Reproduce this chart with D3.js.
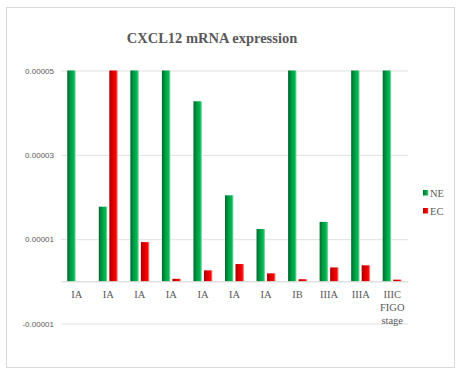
<!DOCTYPE html>
<html><head><meta charset="utf-8">
<script src="https://cdn.jsdelivr.net/npm/d3@7"></script>
<style>body{margin:0;background:#fff}svg{display:block}</style>
</head><body><svg id="c" width="460" height="375"></svg>
<script>
const categories = ["IA","IA","IA","IA","IA","IA","IA","IB","IIIA","IIIA","IIIC"];
const seriesNames = ["NE","EC"];
const neValues = [0.00005,0.0000177,0.00005,0.00005,0.0000427,0.0000204,0.0000124,0.00005,0.0000141,0.00005,0.00005];
const ecValues = [0,0.00005,0.0000093,0.0000006,0.0000026,0.0000041,0.0000019,0.0000005,0.0000033,0.0000038,0.0000004];
const yTicks = [-0.00001,0.00001,0.00003,0.00005];
const yTickLabels = ["-0.00001","0.00001","0.00003","0.00005"];
const title = "CXCL12 mRNA expression";
const axisTitle = ["FIGO","stage"];

const SERIF = "'Liberation Serif','Times New Roman',serif";
const SANS = "'Liberation Sans',Arial,sans-serif";
const svg = d3.select("#c");
const defs = svg.append("defs");
function grad(id, stops){
  const g = defs.append("linearGradient").attr("id",id).attr("x1","0").attr("x2","1").attr("y1","0").attr("y2","0");
  stops.forEach(s=>g.append("stop").attr("offset",s[0]).attr("stop-color",s[1]));
}
grad("gNE",[[0,"#00692e"],[0.45,"#00a047"],[0.78,"#00b853"],[0.88,"#3fcf7c"],[1,"#9fe6bb"]]);
grad("gEC",[[0,"#a80000"],[0.45,"#e00000"],[0.78,"#ff0000"],[0.88,"#ff4d4d"],[1,"#ffaaaa"]]);

svg.append("rect").attr("x",6.5).attr("y",7.5).attr("width",448).attr("height",360)
  .attr("fill","#fff").attr("stroke","#d9d9d9");

const x = d3.scaleBand().domain(d3.range(categories.length)).range([61,408]);
const y = d3.scaleLinear().domain([-0.00001,0.00005]).range([323.5,70.5]);
const inner = d3.scaleBand().domain(seriesNames).range([0,x.bandwidth()]).paddingInner(0.19).paddingOuter(0.595);

svg.append("text").attr("x",212).attr("y",43).attr("text-anchor","middle")
  .style("font-family",SERIF).attr("font-weight","bold").attr("font-size",14.5)
  .attr("fill","#595959").text(title);

// gridlines
const yAxis = d3.axisLeft(y).tickValues(yTicks).tickSize(-(408-61)).tickFormat((d,i)=>yTickLabels[i]);
const ga = svg.append("g").attr("transform","translate(61,0)").call(yAxis);
ga.select(".domain").remove();
ga.selectAll(".tick line").attr("stroke","#e0e0e0");
ga.selectAll(".tick text").attr("x",-7).style("font-family",SANS).attr("font-size",8)
  .attr("fill","#595959");

// bars
const data = [neValues, ecValues];
seriesNames.forEach((s,si)=>{
  svg.append("g").selectAll("rect").data(data[si]).join("rect")
    .attr("x",(d,i)=>x(i)+inner(s))
    .attr("width",inner.bandwidth())
    .attr("y",d=>y(Math.max(d,0)))
    .attr("height",d=>Math.abs(y(d)-y(0)))
    .attr("fill",si===0?"url(#gNE)":"url(#gEC)");
});

// zero axis line
const xAxis = d3.axisBottom(x).tickSize(0).tickFormat(i=>categories[i]);
const gx = svg.append("g").attr("transform",`translate(0,${y(0)})`).call(xAxis);
gx.select(".domain").attr("stroke","#d0d0d0");
gx.selectAll(".tick text").attr("dy",0).attr("y",17).style("font-family",SERIF)
  .attr("font-size",10.5).attr("fill","#595959");
axisTitle.forEach((t,k)=>{
  svg.append("text").attr("x",x(categories.length-1)+x.bandwidth()/2).attr("y",y(0)+30+k*13)
    .attr("text-anchor","middle").style("font-family",SERIF).attr("font-size",10.5)
    .attr("fill","#595959").text(t);
});

// legend
const lg = svg.append("g");
seriesNames.forEach((s,i)=>{
  lg.append("rect").attr("x",423).attr("y",190+i*18).attr("width",5.5).attr("height",5.5)
    .attr("fill",i===0?"url(#gNE)":"url(#gEC)");
  lg.append("text").attr("x",430).attr("y",196.5+i*18).style("font-family",SERIF)
    .attr("font-size",10.5).attr("fill","#595959").text(s);
});
</script></body></html>
